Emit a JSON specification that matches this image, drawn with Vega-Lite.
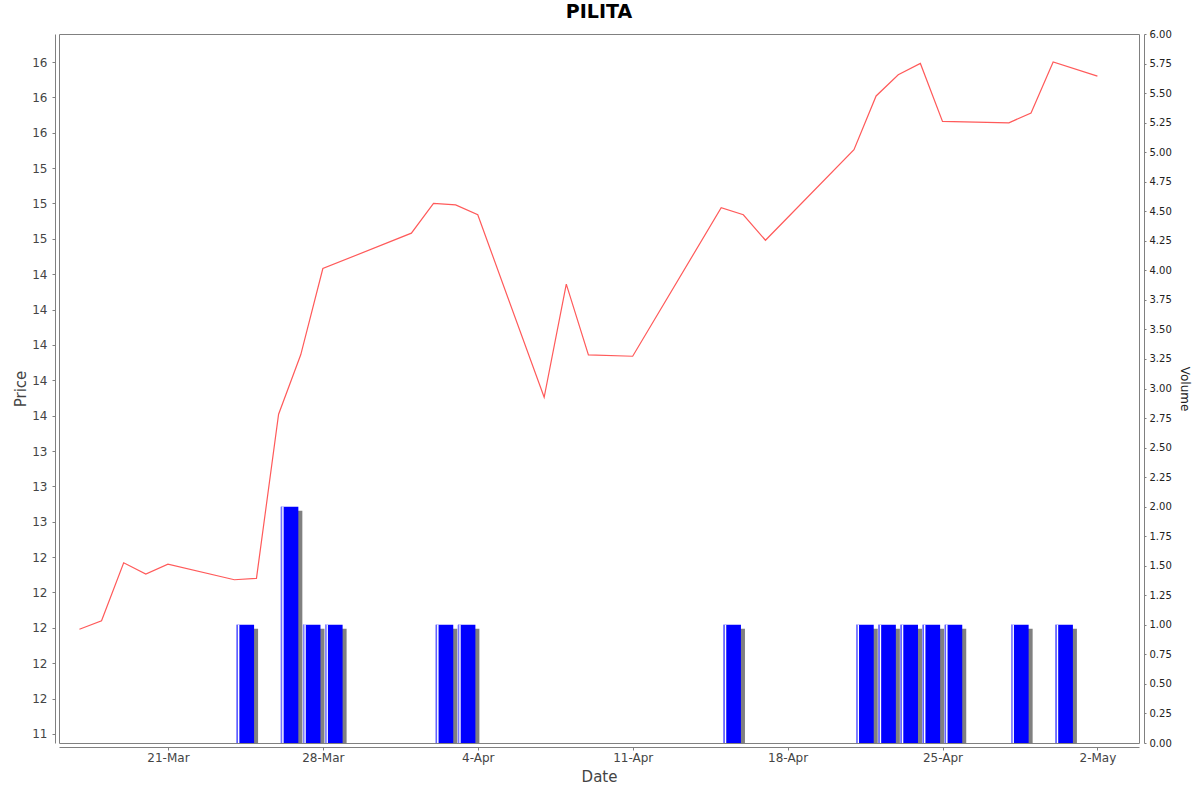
{
  "$schema": "https://vega.github.io/schema/vega-lite/v6.json",
  "width": 1080,
  "height": 709,
  "autosize": "none",
  "padding": {"left": 59, "top": 34, "right": 61, "bottom": 49},
  "background": "white",
  "title": {
    "text": "PILITA",
    "font": "DejaVu Sans",
    "fontSize": 19,
    "fontWeight": "bold",
    "color": "black",
    "anchor": "middle",
    "frame": "group",
    "baseline": "alphabetic",
    "offset": 9,
    "dy": 17
  },
  "config": {
    "view": {"stroke": "#808080", "strokeWidth": 1},
    "axis": {
      "grid": false,
      "domainColor": "#808080",
      "tickColor": "#808080",
      "labelFont": "DejaVu Sans",
      "titleFont": "DejaVu Sans",
      "titleFontWeight": "normal"
    }
  },
  "data": {
    "values": [
      {"date": "2014-03-17T00:00", "price": 11.99, "volume": 0},
      {"date": "2014-03-18T00:00", "price": 12.05, "volume": 0},
      {"date": "2014-03-19T00:00", "price": 12.46, "volume": 0},
      {"date": "2014-03-20T00:00", "price": 12.38, "volume": 0},
      {"date": "2014-03-21T00:00", "price": 12.45, "volume": 0},
      {"date": "2014-03-24T00:00", "price": 12.34, "volume": 1},
      {"date": "2014-03-25T00:00", "price": 12.35, "volume": 0},
      {"date": "2014-03-26T00:00", "price": 13.51, "volume": 2},
      {"date": "2014-03-27T00:00", "price": 13.93, "volume": 1},
      {"date": "2014-03-28T00:00", "price": 14.54, "volume": 1},
      {"date": "2014-04-01T00:00", "price": 14.79, "volume": 0},
      {"date": "2014-04-02T00:00", "price": 15.0, "volume": 1},
      {"date": "2014-04-03T00:00", "price": 14.99, "volume": 1},
      {"date": "2014-04-04T00:00", "price": 14.92, "volume": 0},
      {"date": "2014-04-07T00:00", "price": 13.63, "volume": 0},
      {"date": "2014-04-08T00:00", "price": 14.43, "volume": 0},
      {"date": "2014-04-09T00:00", "price": 13.93, "volume": 0},
      {"date": "2014-04-11T00:00", "price": 13.92, "volume": 0},
      {"date": "2014-04-15T00:00", "price": 14.97, "volume": 1},
      {"date": "2014-04-16T00:00", "price": 14.92, "volume": 0},
      {"date": "2014-04-17T00:00", "price": 14.74, "volume": 0},
      {"date": "2014-04-21T00:00", "price": 15.38, "volume": 1},
      {"date": "2014-04-22T00:00", "price": 15.76, "volume": 1},
      {"date": "2014-04-23T00:00", "price": 15.91, "volume": 1},
      {"date": "2014-04-24T00:00", "price": 15.99, "volume": 1},
      {"date": "2014-04-25T00:00", "price": 15.58, "volume": 1},
      {"date": "2014-04-28T00:00", "price": 15.57, "volume": 1},
      {"date": "2014-04-29T00:00", "price": 15.64, "volume": 0},
      {"date": "2014-04-30T00:00", "price": 16.0, "volume": 1},
      {"date": "2014-05-02T00:00", "price": 15.9, "volume": 0}
    ]
  },
  "encoding": {
    "x": {
      "field": "date",
      "type": "temporal",
      "title": "Date",
      "scale": {
        "padding": 0,
        "nice": false,
        "domain": [
          {"year": 2014, "month": 3, "date": 16, "hours": 1, "minutes": 51},
          {"year": 2014, "month": 5, "date": 3, "hours": 21, "minutes": 6}
        ]
      },
      "axis": {
        "values": [
          {"year": 2014, "month": 3, "date": 21},
          {"year": 2014, "month": 3, "date": 28},
          {"year": 2014, "month": 4, "date": 4},
          {"year": 2014, "month": 4, "date": 11},
          {"year": 2014, "month": 4, "date": 18},
          {"year": 2014, "month": 4, "date": 25},
          {"year": 2014, "month": 5, "date": 2}
        ],
        "format": "%-d-%b",
        "offset": 4,
        "tickSize": 3,
        "labelFontSize": 12,
        "labelColor": "#444444",
        "labelPadding": 2,
        "titleFontSize": 15,
        "titleColor": "#444444",
        "titlePadding": 6
      }
    }
  },
  "layer": [
    {
      "transform": [{"filter": "datum.volume > 0"}],
      "encoding": {
        "y": {
          "field": "volume",
          "type": "quantitative",
          "title": "Volume",
          "scale": {"domain": [0, 6], "nice": false},
          "axis": {
            "orient": "right",
            "values": [0, 0.25, 0.5, 0.75, 1, 1.25, 1.5, 1.75, 2, 2.25, 2.5, 2.75, 3, 3.25, 3.5, 3.75, 4, 4.25, 4.5, 4.75, 5, 5.25, 5.5, 5.75, 6],
            "format": ".2f",
            "offset": 5,
            "tickSize": 2,
            "labelFontSize": 10,
            "labelColor": "#222222",
            "labelPadding": 3,
            "titleFontSize": 12,
            "titleColor": "#222222",
            "titlePadding": 6
          }
        }
      },
      "layer": [
        {"mark": {"type": "bar", "width": 17.5, "xOffset": 15, "yOffset": 4, "color": "#808080", "clip": true}},
        {"mark": {"type": "bar", "width": 17.5, "xOffset": 11, "color": "#0000ff"}},
        {"mark": {"type": "bar", "width": 1, "xOffset": 2.7, "color": "#8c8cff"}},
        {"mark": {"type": "bar", "width": 1.5, "xOffset": 4.3, "color": "#ffffff"}}
      ]
    },
    {
      "mark": {"type": "line", "color": "#ff5a5a", "strokeWidth": 1.2},
      "encoding": {
        "y": {
          "field": "price",
          "type": "quantitative",
          "title": "Price",
          "scale": {"domain": [11.186, 16.198], "nice": false, "zero": false},
          "axis": {
            "orient": "left",
            "values": [11.25, 11.5, 11.75, 12, 12.25, 12.5, 12.75, 13, 13.25, 13.5, 13.75, 14, 14.25, 14.5, 14.75, 15, 15.25, 15.5, 15.75, 16],
            "labelExpr": "format(abs(datum.value - floor(datum.value) - 0.5) < 0.001 ? (floor(datum.value) % 2 == 0 ? floor(datum.value) : floor(datum.value) + 1) : round(datum.value), 'd')",
            "offset": 4,
            "tickSize": 3,
            "labelFontSize": 12,
            "labelColor": "#444444",
            "labelPadding": 5,
            "titleFontSize": 15,
            "titleColor": "#444444",
            "titlePadding": 3
          }
        }
      }
    }
  ],
  "resolve": {"scale": {"y": "independent"}, "axis": {"y": "independent"}}
}
